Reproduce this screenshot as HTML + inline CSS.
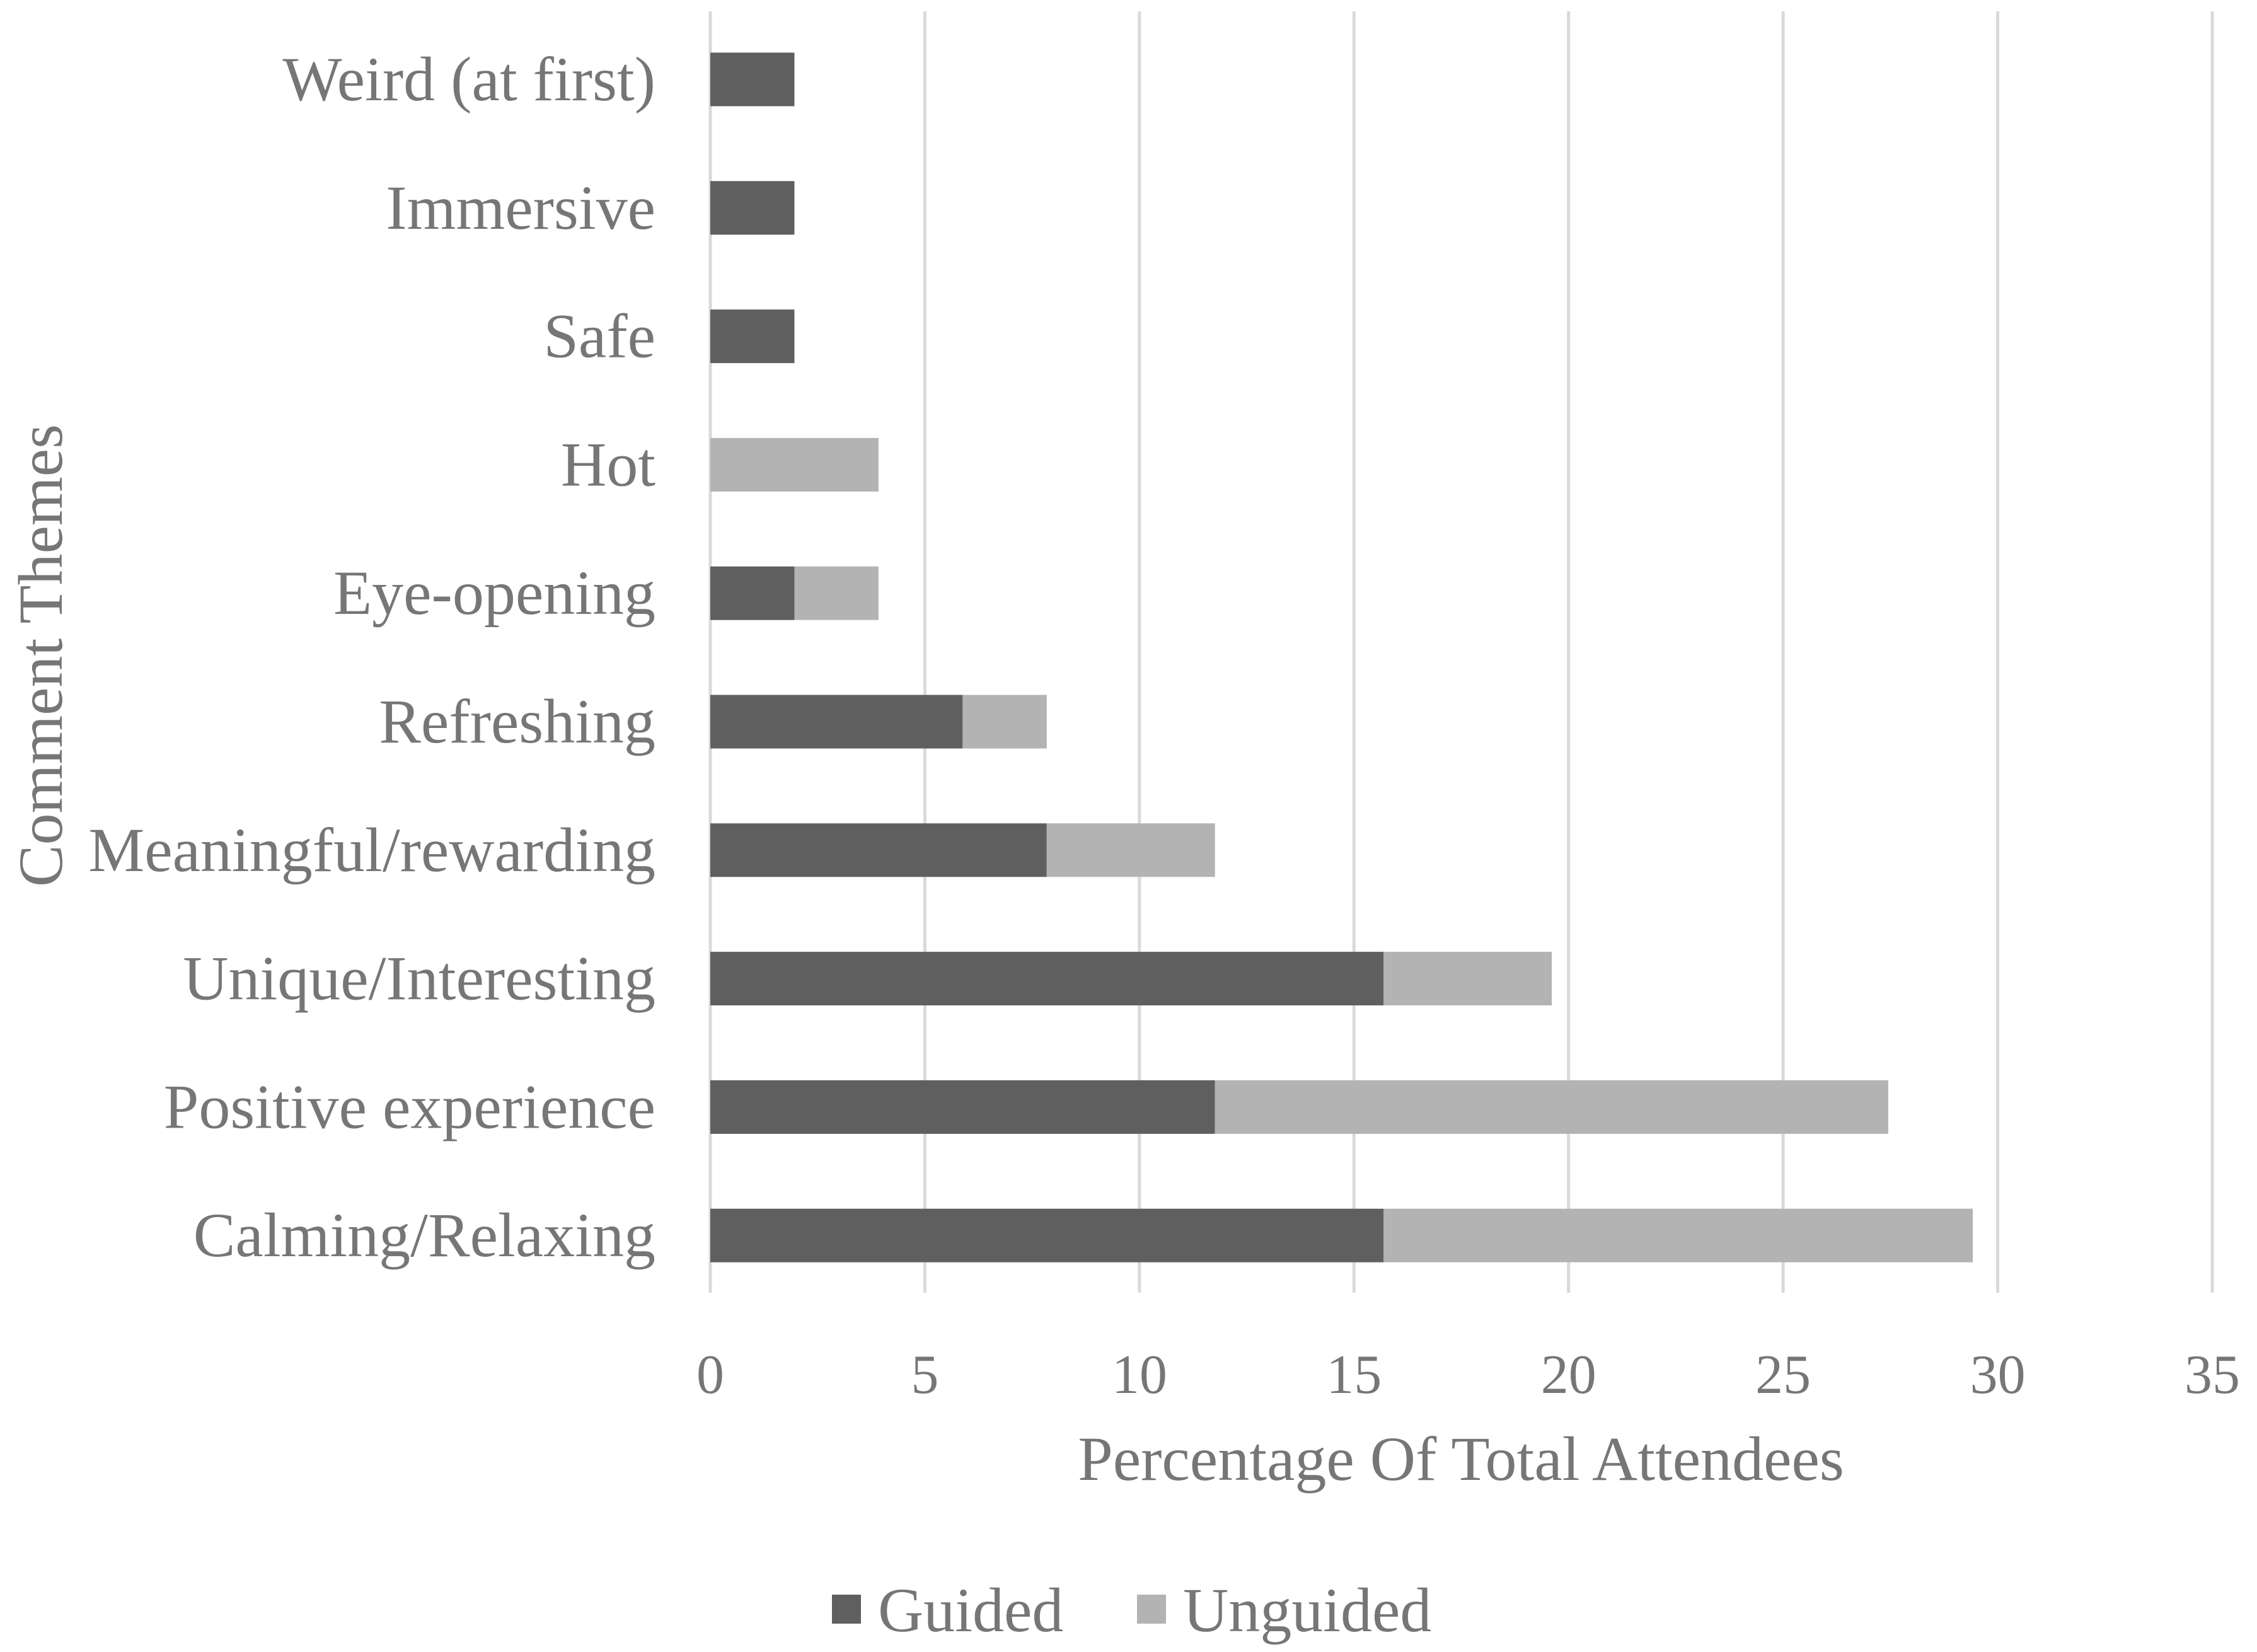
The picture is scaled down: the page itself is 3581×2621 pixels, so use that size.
<!DOCTYPE html>
<html><head><meta charset="utf-8"><style>
html,body{margin:0;padding:0;background:#fff;}
svg{display:block;}
text{font-family:"Liberation Serif",serif;fill:#767676;}
</style></head><body>
<svg id="chart" width="3581" height="2621" viewBox="0 0 3581 2621">
<g id="grid"></g>
<g id="bars"></g>
<g id="ylabels"></g>
<g id="xlabels"></g>
<text x="2318" y="2348" font-size="100" text-anchor="middle">Percentage Of Total Attendees</text>
<text transform="translate(98,1040) rotate(-90)" font-size="100" text-anchor="middle">Comment Themes</text>
<g>
<rect x="1320" y="2530" width="46" height="46" fill="#5f5f5f"/>
<text x="1393" y="2588" font-size="100">Guided</text>
<rect x="1804" y="2530" width="46" height="46" fill="#b3b3b3"/>
<text x="1877" y="2588" font-size="100">Unguided</text>
</g>
</svg>
<script>
const categories = ["Weird (at first)","Immersive","Safe","Hot","Eye-opening","Refreshing","Meaningful/rewarding","Unique/Interesting","Positive experience","Calming/Relaxing"];
const guided = [1.96,1.96,1.96,0,1.96,5.88,7.84,15.69,11.76,15.69];
const unguided = [0,0,0,3.92,1.96,1.96,3.92,3.92,15.69,13.73];
const ticks = [0,5,10,15,20,25,30,35];

const NS="http://www.w3.org/2000/svg";
const x0=1127, x1=3510, xmax=35;
const xs=v=>x0+(x1-x0)*v/xmax;
const yTop=126, yStep=203.8, barH=85;
const yc=i=>yTop+i*yStep;
function mk(tag,attrs,parent){const e=document.createElementNS(NS,tag);for(const k in attrs)e.setAttribute(k,attrs[k]);parent.appendChild(e);return e;}
const grid=document.getElementById('grid'),bars=document.getElementById('bars'),yl=document.getElementById('ylabels'),xl=document.getElementById('xlabels');
ticks.forEach(t=>{
  const l=mk('line',{x1:xs(t),x2:xs(t),y1:18,y2:2051,stroke:'#d9d9d9','stroke-width':5},grid);
  
  
  const tx=mk('text',{x:xs(t),y:2210,'font-size':88,'text-anchor':'middle'},xl);
  tx.textContent=t;
  
  
});
categories.forEach((c,i)=>{
  const y=yc(i);
  const g=guided[i],u=unguided[i];
  if(g>0){const r=mk('rect',{x:xs(0),y:y-barH/2,width:xs(g)-xs(0),height:barH,fill:'#5f5f5f'},bars);
    
    }
  if(u>0){const r=mk('rect',{x:xs(g),y:y-barH/2,width:xs(g+u)-xs(g),height:barH,fill:'#b3b3b3'},bars);
    
    }
  const t=mk('text',{x:1040,y:y+33,'font-size':100,'text-anchor':'end'},yl);
  t.textContent=c;
  
  
});
</script>
</body></html>
